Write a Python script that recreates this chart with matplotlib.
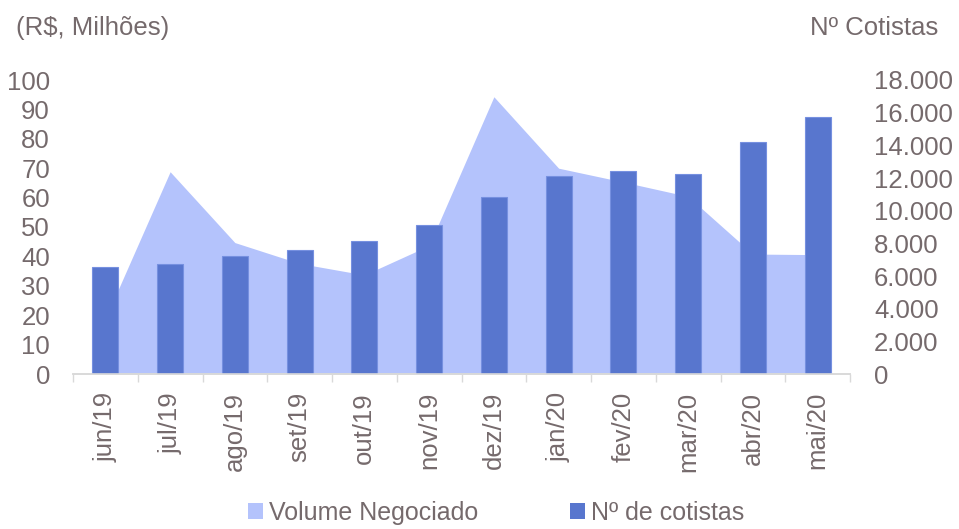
import matplotlib
matplotlib.use("Agg")
import matplotlib.pyplot as plt
import numpy as np
from matplotlib.patches import Patch

plt.rcParams['font.family'] = ['Liberation Sans', 'DejaVu Sans']

categories = ["jun/19", "jul/19", "ago/19", "set/19", "out/19", "nov/19",
              "dez/19", "jan/20", "fev/20", "mar/20", "abr/20", "mai/20"]
volume = [18.8, 68.8, 44.7, 37.6, 33.7, 43.7, 94.3, 70.0, 65.3, 60.4, 40.8, 40.6]
cotistas = [6530, 6735, 7245, 7570, 8125, 9125, 10860, 12145, 12430, 12230, 14210, 15760]
left_ticks = list(range(0, 101, 10))
right_ticks = list(range(0, 18001, 2000))

TEXT = '#756A6C'
AREA = '#B4C3FC'
BAR = '#5876CE'
GRID = '#D9D9D9'
FS = 18.5
FS_LEG = 18
PX = 72 / 100  # points per pixel at dpi 100

fig = plt.figure(figsize=(9.59, 5.29), dpi=100)
ax1 = fig.add_axes([73/959, 1-374/529, (850-73)/959, (374-80)/529])
ax2 = ax1.twinx()

x = np.arange(len(categories))
ax1.fill_between(x, 0, volume, color=AREA, linewidth=0, zorder=1)
ax2.bar(x, cotistas, width=0.4, color=BAR, edgecolor='#7690E0', linewidth=0.8, zorder=2)

ax1.set_xlim(-0.5, len(categories) - 0.5)
ax1.set_ylim(0, 100)
ax2.set_ylim(0, 18000)

ax1.set_yticks(left_ticks)
ax1.set_yticklabels([str(v) for v in left_ticks])
ax2.set_yticks(right_ticks)
ax2.set_yticklabels([f"{v:,}".replace(",", ".") for v in right_ticks])

ax1.set_xticks(x)
ax1.set_xticklabels(categories, rotation=90, fontsize=FS, color=TEXT)
ax1.set_xticks(np.arange(-0.5, len(categories), 1.0), minor=True)
ax1.tick_params(axis='x', which='major', length=0, pad=18 * PX)
ax1.tick_params(axis='x', which='minor', length=8 * PX, width=1, color=GRID)
ax1.tick_params(axis='y', length=0, pad=23 * PX, labelsize=FS, labelcolor=TEXT)
ax2.tick_params(axis='y', length=0, pad=24 * PX, labelsize=FS, labelcolor=TEXT)

for ax in (ax1, ax2):
    for s in ('top', 'left', 'right'):
        ax.spines[s].set_visible(False)
    ax.spines['bottom'].set_color(GRID)
    ax.spines['bottom'].set_linewidth(1.2)

fig.text(16/959, 1-28/529, "(R$, Milhões)", fontsize=FS, color=TEXT, ha='left', va='center')
fig.text(938/959, 1-28/529, "Nº Cotistas", fontsize=FS, color=TEXT, ha='right', va='center')

handles = [Patch(facecolor=AREA, edgecolor='none'), Patch(facecolor=BAR, edgecolor='none')]
fig.legend(handles, ["Volume Negociado", "Nº de cotistas"], loc='center',
           bbox_to_anchor=(496/959, 1-513/529), ncol=2, frameon=False,
           fontsize=FS_LEG, labelcolor=TEXT, handlelength=0.6, handleheight=0.6,
           handletextpad=0.24, columnspacing=3.7, borderaxespad=0, borderpad=0)

fig.savefig("out.png", dpi=100)
